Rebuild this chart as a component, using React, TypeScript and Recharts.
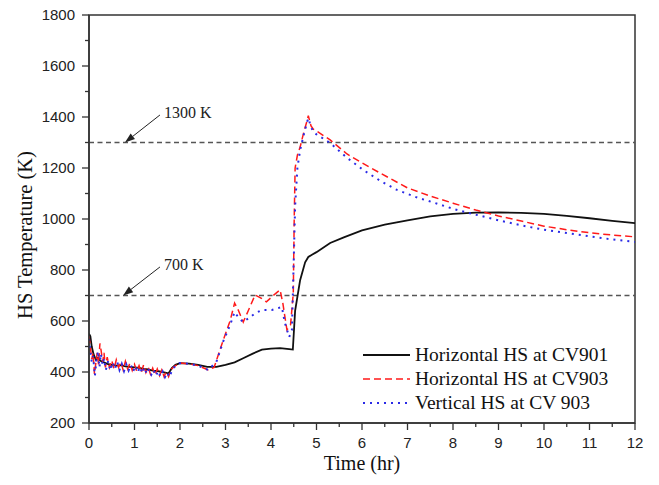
import React from 'react';
import { LineChart, Line, XAxis, YAxis, ReferenceLine, ReferenceArea, Legend } from 'recharts';

// time (hr), temperature (K)
const HORIZONTAL_CV901: [number, number][] = [
  [0, 550], [0.03, 540], [0.06, 500], [0.1, 470], [0.15, 448], [0.2, 456], [0.25, 444],
  [0.3, 440], [0.4, 432], [0.5, 428], [0.6, 425], [0.7, 427], [0.8, 422], [0.9, 420],
  [1.0, 418], [1.1, 416], [1.2, 412], [1.3, 410], [1.4, 405], [1.5, 404], [1.6, 400],
  [1.75, 395], [1.82, 415], [1.9, 428], [2.0, 435], [2.2, 433], [2.4, 428], [2.6, 420],
  [2.8, 420], [3.0, 428], [3.2, 438], [3.4, 455], [3.6, 472], [3.8, 488], [4.0, 492],
  [4.2, 494], [4.4, 490], [4.48, 488], [4.53, 640], [4.64, 760], [4.75, 830], [4.82, 851],
  [4.9, 860], [5.0, 870], [5.3, 906], [5.6, 928], [6.0, 955], [6.5, 978], [7.0, 995],
  [7.5, 1010], [8.0, 1020], [8.5, 1025], [9.0, 1026], [9.5, 1024], [10.0, 1020],
  [10.5, 1012], [11.0, 1003], [11.5, 993], [12.0, 984],
];

const HORIZONTAL_CV903: [number, number][] = [
  [0, 540], [0.03, 500], [0.06, 450], [0.09, 475], [0.12, 392], [0.15, 435], [0.18, 475],
  [0.21, 430], [0.24, 512], [0.27, 480], [0.3, 440], [0.33, 475], [0.36, 418], [0.4, 458],
  [0.45, 418], [0.5, 445], [0.55, 412], [0.6, 448], [0.65, 418], [0.7, 440], [0.75, 408],
  [0.8, 442], [0.85, 412], [0.9, 435], [0.95, 406], [1.0, 430], [1.05, 402], [1.1, 425],
  [1.15, 398], [1.2, 428], [1.25, 398], [1.3, 420], [1.35, 392], [1.4, 415], [1.45, 388],
  [1.5, 412], [1.55, 386], [1.6, 408], [1.65, 382], [1.7, 402], [1.75, 382], [1.8, 410],
  [1.9, 425], [2.0, 435], [2.2, 432], [2.4, 425], [2.62, 408], [2.75, 418], [2.95, 525],
  [3.1, 600], [3.2, 670], [3.28, 643], [3.39, 596], [3.5, 640], [3.65, 702], [3.78, 690],
  [3.9, 675], [4.05, 700], [4.2, 722], [4.26, 670], [4.35, 565], [4.43, 585], [4.49, 710],
  [4.51, 1000], [4.53, 1200], [4.58, 1250], [4.64, 1282], [4.72, 1340], [4.8, 1390],
  [4.82, 1405], [4.85, 1385], [4.88, 1365], [4.93, 1352], [5.0, 1345], [5.3, 1310],
  [5.67, 1255], [6.0, 1220], [6.4, 1180], [7.0, 1122], [7.5, 1090], [8.0, 1062],
  [8.5, 1035], [9.0, 1012], [9.5, 992], [10.0, 972], [10.5, 958], [11.0, 946],
  [11.5, 937], [12.0, 930],
];

const VERTICAL_CV903: [number, number][] = [
  [0, 530], [0.03, 480], [0.06, 440], [0.09, 462], [0.13, 385], [0.16, 442], [0.2, 482],
  [0.23, 418], [0.26, 472], [0.3, 428], [0.33, 452], [0.37, 408], [0.42, 442], [0.47, 406],
  [0.52, 438], [0.57, 412], [0.62, 440], [0.67, 408], [0.72, 432], [0.77, 404], [0.82, 430],
  [0.87, 406], [0.92, 428], [0.97, 402], [1.02, 424], [1.07, 398], [1.12, 420], [1.17, 395],
  [1.22, 418], [1.27, 392], [1.32, 412], [1.37, 390], [1.42, 408], [1.47, 385], [1.52, 404],
  [1.57, 382], [1.62, 402], [1.67, 380], [1.72, 398], [1.77, 380], [1.82, 405], [1.9, 425],
  [2.0, 435], [2.2, 432], [2.4, 425], [2.62, 408], [2.8, 440], [2.95, 520], [3.1, 584],
  [3.2, 635], [3.3, 610], [3.39, 596], [3.54, 615], [3.65, 630], [3.8, 643], [4.02, 643],
  [4.24, 655], [4.3, 596], [4.4, 537], [4.46, 565], [4.5, 840], [4.53, 1050], [4.58, 1200],
  [4.64, 1270], [4.72, 1330], [4.8, 1385], [4.83, 1395], [4.86, 1370], [4.93, 1341],
  [5.0, 1332], [5.3, 1298], [5.67, 1240], [6.03, 1192], [6.4, 1150], [6.77, 1114],
  [7.2, 1085], [7.6, 1063], [8.0, 1040], [8.5, 1017], [9.0, 995], [9.5, 975], [10.0, 958],
  [10.5, 945], [11.0, 932], [11.5, 920], [12.0, 910],
];

const X_TICKS = [0, 0.5, 1, 1.5, 2, 2.5, 3, 3.5, 4, 4.5, 5, 5.5, 6, 6.5, 7, 7.5, 8, 8.5, 9, 9.5, 10, 10.5, 11, 11.5, 12];
const Y_TICKS = [200, 300, 400, 500, 600, 700, 800, 900, 1000, 1100, 1200, 1300, 1400, 1500, 1600, 1700, 1800];

const LIMITS = [1300, 700];
const LIMIT_LABELS = ['1300 K', '700 K'];
const ARROW_FROM: [number, number][] = [[1.56, 1408], [1.56, 812]];
const ARROW_TO: [number, number][] = [[0.79, 1300], [0.75, 700]];

const SERIES = [
  { name: 'Horizontal HS at CV901', rows: HORIZONTAL_CV901, color: '#111111', dash: undefined, width: 1.8 },
  { name: 'Horizontal HS at CV903', rows: HORIZONTAL_CV903, color: '#ff1a1a', dash: '7 4', width: 1.5 },
  { name: 'Vertical HS at CV 903', rows: VERTICAL_CV903, color: '#2a2ae6', dash: '2 5', width: 2 },
];

const SERIF = '"Liberation Serif", "Times New Roman", serif';
const SANS = '"Liberation Sans", Arial, sans-serif';
const AXIS = '#333';

const XTick = ({ x, y, payload }: any) => {
  const major = Number.isInteger(payload.value);
  return (
    <g>
      <line x1={x} y1={y} x2={x} y2={y + (major ? 7 : 4)} stroke={AXIS} strokeWidth={1.3} />
      {major && (
        <text x={x} y={y + 25} textAnchor="middle" fontFamily={SANS} fontSize={15} fill="#222">
          {payload.value}
        </text>
      )}
    </g>
  );
};

const YTick = ({ x, y, payload }: any) => {
  const major = payload.value % 200 === 0;
  return (
    <g>
      <line x1={x} y1={y} x2={x - (major ? 7 : 4)} y2={y} stroke={AXIS} strokeWidth={1.3} />
      {major && (
        <text x={x - 14} y={y + 5} textAnchor="end" fontFamily={SANS} fontSize={15} fill="#222">
          {payload.value}
        </text>
      )}
    </g>
  );
};

const Arrow = (props: any) => {
  const { x1, y1, x2, y2, text } = props;
  const a = Math.atan2(y2 - y1, x2 - x1);
  const len = 10;
  const w = 3.5;
  const bx = x2 - len * Math.cos(a);
  const by = y2 - len * Math.sin(a);
  const px = -Math.sin(a) * w;
  const py = Math.cos(a) * w;
  return (
    <g>
      <line x1={x1} y1={y1} x2={bx} y2={by} stroke="#222" strokeWidth={1} />
      <polygon points={`${x2},${y2} ${bx + px},${by + py} ${bx - px},${by - py}`} fill="#222" />
      <text x={x1 + 4} y={y1 + 3} fontFamily={SERIF} fontSize={16} fill="#222">
        {text}
      </text>
    </g>
  );
};

const LegendBox = () => (
  <div style={{ fontFamily: SERIF, fontSize: 19.5, color: '#111' }}>
    {SERIES.map((s) => (
      <div key={s.name} style={{ display: 'flex', alignItems: 'center', height: 24, whiteSpace: 'nowrap' }}>
        <svg width={50} height={10}>
          <line x1={2} y1={5} x2={49} y2={5} stroke={s.color} strokeWidth={s.width} strokeDasharray={s.dash} />
        </svg>
        <span style={{ marginLeft: 4 }}>{s.name}</span>
      </div>
    ))}
  </div>
);

const YTitle = ({ viewBox }: any) => {
  const cx = viewBox.x + 25;
  const cy = viewBox.y + viewBox.height / 2 + 16;
  return (
    <text x={cx} y={cy} transform={`rotate(-90 ${cx} ${cy})`} textAnchor="middle" dominantBaseline="central" fontFamily={SERIF} fontSize={20.5} fill="#111">
      HS Temperature (K)
    </text>
  );
};

const XTitle = ({ viewBox }: any) => {
  const cx = viewBox.x + viewBox.width / 2;
  const cy = viewBox.y + 40;
  return (
    <text x={cx} y={cy} textAnchor="middle" dominantBaseline="central" fontFamily={SERIF} fontSize={20} fill="#111">
      Time (hr)
    </text>
  );
};

export default function App() {
  return (
    <div style={{ background: '#fff', width: 659, height: 485 }}>
      <style>{'body{margin:0}'}</style>
      <LineChart width={659} height={485} margin={{ top: 15, right: 24, left: 0, bottom: 0 }}>
        <XAxis
          type="number"
          dataKey="t"
          domain={[0, 12]}
          ticks={X_TICKS}
          interval={0}
          height={62}
          tickSize={0}
          tickMargin={0}
          tickLine={false}
          axisLine={{ stroke: AXIS, strokeWidth: 1.5 }}
          tick={<XTick />}
          label={<XTitle />}
          allowDataOverflow
        />
        <YAxis
          type="number"
          dataKey="v"
          domain={[200, 1800]}
          ticks={Y_TICKS}
          interval={0}
          width={89}
          tickSize={0}
          tickMargin={0}
          tickLine={false}
          axisLine={{ stroke: AXIS, strokeWidth: 1.5 }}
          tick={<YTick />}
          label={<YTitle />}
          allowDataOverflow
        />
        <ReferenceArea x1={0} x2={12} y1={200} y2={1800} fill="none" stroke={AXIS} strokeWidth={1.5} />
        {LIMITS.map((lv) => (
          <ReferenceLine key={lv} y={lv} stroke="#555" strokeWidth={1.3} strokeDasharray="5 3.5" />
        ))}
        {LIMITS.map((lv, i) => (
          <ReferenceLine
            key={`arrow-${lv}`}
            segment={[
              { x: ARROW_FROM[i][0], y: ARROW_FROM[i][1] },
              { x: ARROW_TO[i][0], y: ARROW_TO[i][1] },
            ]}
            shape={(p: any) => <Arrow {...p} text={LIMIT_LABELS[i]} />}
          />
        ))}
        {SERIES.map((s) => (
          <Line
            key={s.name}
            name={s.name}
            data={s.rows.map(([t, v]) => ({ t, v }))}
            dataKey="v"
            type="linear"
            stroke={s.color}
            strokeWidth={s.width}
            strokeDasharray={s.dash}
            dot={false}
            activeDot={false}
            isAnimationActive={false}
          />
        ))}
        <Legend
          layout="vertical"
          align="center"
          verticalAlign="middle"
          content={<LegendBox />}
          wrapperStyle={{ position: 'absolute', left: 361, top: 343, width: 'auto', height: 'auto' }}
        />
      </LineChart>
    </div>
  );
}
